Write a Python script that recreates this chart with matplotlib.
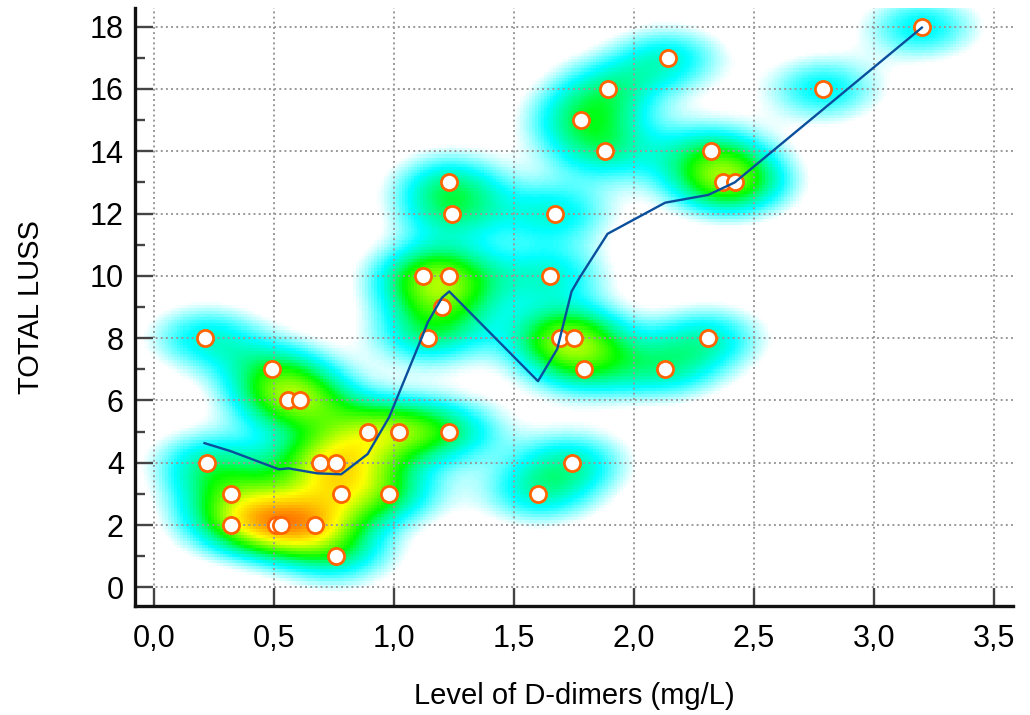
import numpy as np
import matplotlib.pyplot as plt
from matplotlib.colors import LinearSegmentedColormap

plt.rcParams['font.family'] = ['Liberation Sans', 'DejaVu Sans']

# D-dimer level (mg/L) and TOTAL LUSS score
ddimer = [0.21, 0.22, 0.32, 0.32, 0.49, 0.56, 0.61, 0.51, 0.53, 0.67, 0.69, 0.76,
          0.78, 0.76, 0.89, 0.98, 1.02, 1.12, 1.20, 1.14, 1.23, 1.24, 1.23, 1.23,
          1.60, 1.74, 1.65, 1.67, 1.69, 1.75, 1.79, 1.78, 1.88, 1.89, 2.14, 2.13,
          2.31, 2.32, 2.37, 2.42, 2.79, 3.20]
luss = [8, 4, 3, 2, 7, 6, 6, 2, 2, 2, 4, 4,
        3, 1, 5, 3, 5, 10, 9, 8, 13, 12, 10, 5,
        3, 4, 10, 12, 8, 8, 7, 15, 14, 16, 17, 7,
        8, 14, 13, 13, 16, 18]

# smoothed trend line vertices
fit_x = [0.21, 0.32, 0.52, 0.56, 0.68, 0.78, 0.89, 0.98, 1.12, 1.14, 1.20, 1.23,
         1.60, 1.68, 1.74, 1.77, 1.89, 2.13, 2.31, 2.42, 3.20]
fit_y = [4.63, 4.37, 3.79, 3.82, 3.66, 3.63, 4.28, 5.47, 8.1, 8.5, 9.3, 9.5,
         6.62, 7.65, 9.5, 9.9, 11.35, 12.35, 12.6, 13.0, 17.97]

xlim = (-0.08, 3.58)
ylim = (-0.6, 18.6)

# density background
gx = np.linspace(xlim[0], xlim[1], 290)
gy = np.linspace(ylim[0], ylim[1], 195)
X, Y = np.meshgrid(gx, gy)
sx, sy = 0.17, 0.75
dens = np.zeros_like(X)
for px, py in zip(ddimer, luss):
    dens += np.exp(-0.5 * (((X - px) / sx) ** 2 + ((Y - py) / sy) ** 2))

top = 4.7
stops = [(0.0, 'white'), (0.3, 'white'), (0.95, (0.0, 1.0, 1.0)),
         (1.45, (0.0, 1.0, 0.5)), (1.8, (0.0, 1.0, 0.0)), (2.8, (1.0, 1.0, 0.0)),
         (3.6, (1.0, 0.55, 0.0)), (4.7, (1.0, 0.0, 0.0))]
cmap = LinearSegmentedColormap.from_list('dens', [(v / top, c) for v, c in stops])

fig = plt.figure(figsize=(10.3, 7.15), dpi=100)
ax = fig.add_axes([0.131, 0.1524, 0.8525, 0.8364])

ax.imshow(dens, extent=[xlim[0], xlim[1], ylim[0], ylim[1]], origin='lower',
          cmap=cmap, vmin=0, vmax=top, aspect='auto', interpolation='nearest', zorder=0)

ax.grid(True, linestyle=':', color='#999999', linewidth=1.4, zorder=1)
ax.scatter(ddimer, luss, s=135, facecolor='white', edgecolor='#ff6400',
           linewidth=2.0, zorder=3)
ax.plot(fit_x, fit_y, color='#0a4f9c', linewidth=1.7, zorder=4)

ax.set_xlim(xlim)
ax.set_ylim(ylim)
ax.set_xticks(np.arange(0, 3.51, 0.5))
ax.set_yticks(np.arange(0, 18.1, 2))
ax.set_yticks(np.arange(1, 18, 2), minor=True)
ax.set_xticklabels([f'{v:.1f}'.replace('.', ',') for v in np.arange(0, 3.51, 0.5)])

for s in ['top', 'right']:
    ax.spines[s].set_visible(False)
for s in ['left', 'bottom']:
    ax.spines[s].set_linewidth(2.4)
    ax.spines[s].set_color('#111111')

ax.tick_params(axis='both', which='major', direction='in', length=13, width=1.7,
               color='#444444', labelsize=22)
ax.tick_params(axis='x', pad=13)
ax.tick_params(axis='y', pad=8)
ax.tick_params(axis='y', which='minor', direction='in', length=7, width=1.7,
               color='#444444')

ax.set_xlabel('Level of D-dimers (mg/L)', fontsize=21, labelpad=20)
ax.set_ylabel('TOTAL LUSS', fontsize=21, labelpad=32)

fig.savefig('out.png', dpi=100)
